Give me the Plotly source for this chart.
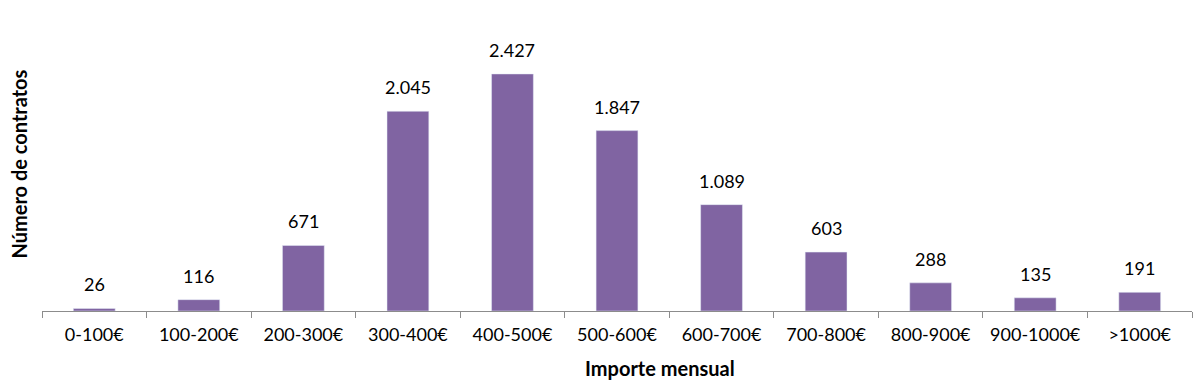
import plotly.graph_objects as go

categories = ["0-100€", "100-200€", "200-300€", "300-400€", "400-500€", "500-600€",
              "600-700€", "700-800€", "800-900€", "900-1000€", ">1000€"]
contratos = [26, 116, 671, 2045, 2427, 1847, 1089, 603, 288, 135, 191]

FONT = "Lato"
BAR = "#8064A2"

fig = go.Figure()
fig.add_trace(go.Bar(x=categories, y=contratos, marker_color=BAR, width=0.4,
                     hoverinfo="x+y"))

for c, v in zip(categories, contratos):
    fig.add_annotation(x=c, y=v, text=f"{v:,}".replace(",", "."), showarrow=False,
                       yanchor="bottom", yshift=11,
                       font=dict(family=FONT, size=18, color="#000"))

fig.add_annotation(xref="paper", yref="paper", x=0, y=0.5, xshift=-24,
                   text="<b>Número de contratos</b>", textangle=-90, showarrow=False,
                   xanchor="center", yanchor="middle",
                   font=dict(family=FONT, size=20, color="#000"))
fig.add_annotation(xref="paper", yref="paper", x=0.537, y=0, yshift=-57,
                   text="<b>Importe mensual</b>", showarrow=False,
                   xanchor="center", yanchor="middle",
                   font=dict(family=FONT, size=20, color="#000"))

fig.update_layout(
    width=1200, height=384,
    margin=dict(l=42, r=8, t=18, b=73),
    plot_bgcolor="white", paper_bgcolor="white",
    showlegend=False,
    bargap=0.6,
    font=dict(family=FONT, size=18, color="#000"),
    xaxis=dict(
        automargin=False,
        showline=True, linecolor="#8c8c8c", linewidth=1,
        ticks="outside", tickson="boundaries", ticklen=6, tickcolor="#8c8c8c",
        tickfont=dict(family=FONT, size=18, color="#000"),
        ticklabelstandoff=7,
        showgrid=False,
    ),
    yaxis=dict(
        automargin=False,
        range=[0, 3000], showticklabels=False, showgrid=False, zeroline=False,
        ticks="", showline=False,
    ),
)

fig.write_html("out.html", config={"displayModeBar": False},
               post_script="document.body.style.margin='0';document.body.style.overflow='hidden';")
